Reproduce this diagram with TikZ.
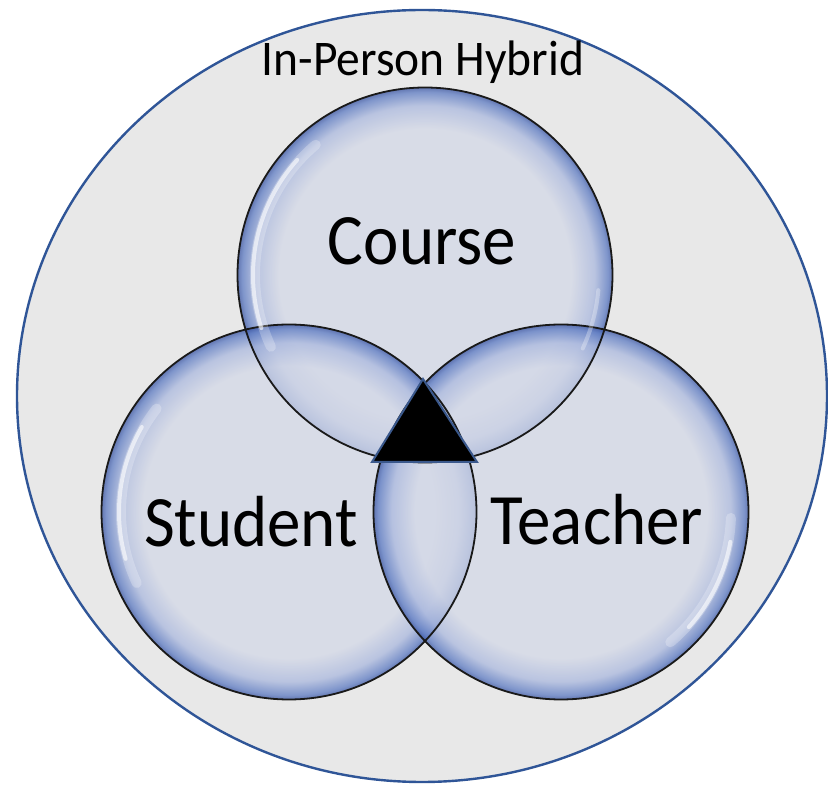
\documentclass[tikz,border=0pt]{standalone}
\usepackage{fontspec}
\setmainfont{Carlito}
\definecolor{gin}{RGB}{211,216,231}
\definecolor{gmid}{RGB}{170,184,222}
\definecolor{grim}{RGB}{92,122,194}
\definecolor{gedge}{RGB}{55,82,160}
\definecolor{outerfill}{RGB}{232,232,232}
\definecolor{outerline}{RGB}{47,85,151}
\definecolor{triline}{RGB}{58,88,140}
\pgfdeclareradialshading{glass}{\pgfpoint{0bp}{0bp}}{color(0bp)=(gin); color(19.5bp)=(gin); color(22.6bp)=(gmid); color(24.4bp)=(grim); color(25bp)=(gedge); color(50bp)=(gedge)}
\tikzset{
  bubble/.style={circle, inner sep=0pt, minimum size=375pt, shade, shading=glass, fill opacity=0.75},
  rimline/.style={draw=black!90, line width=1.8pt},
  shine/.style={white, line width=4pt, opacity=0.6, line cap=round},
  glow/.style={white, line width=10pt, opacity=0.25, line cap=round},
  bigword/.style={anchor=base, inner sep=0pt, font=\fontsize{67}{80}\selectfont},
  title/.style={anchor=base, inner sep=0pt, font=\fontsize{47.5}{56}\selectfont}
}
\begin{document}
\begin{tikzpicture}[x=1pt,y=1pt]
\useasboundingbox (0,0) rectangle (828,785);
\draw[fill=outerfill, draw=outerline, line width=2.4pt] (422,389) ellipse [x radius=405, y radius=386];
\node[bubble] (course) at (425,510) {};
\node[bubble] (student) at (289,273) {};
\node[bubble] (teacher) at (561,273) {};
\draw[rimline] (course.center) circle [radius=187.5];
\draw[rimline] (student.center) circle [radius=187.5];
\draw[rimline] (teacher.center) circle [radius=187.5];
\draw[glow] (course.center) ++(130:170) arc[start angle=130, end angle=205, radius=170];
\draw[shine] (course.center) ++(138:172) arc[start angle=138, end angle=198, radius=172];
\draw[glow] (student.center) ++(142:168) arc[start angle=142, end angle=205, radius=168];
\draw[shine] (student.center) ++(150:170) arc[start angle=150, end angle=196, radius=170];
\draw[glow] (teacher.center) ++(-2:170) arc[start angle=-2, end angle=-50, radius=170];
\draw[shine] (teacher.center) ++(-10:172) arc[start angle=-10, end angle=-42, radius=172];
\draw[shine, opacity=0.3] (course.center) ++(-5:174) arc[start angle=-5, end angle=-25, radius=174];
\coordinate (apex) at (423,406);
\coordinate (bl) at (372,323);
\coordinate (br) at (477,323);
\draw[fill=black, draw=triline, line width=2pt, line join=miter] (apex) -- (bl) -- (br) -- cycle;
\node[title] (hybrid) at (423,709) {\scalebox{1}[1.05]{In-Person Hybrid}};
\node[bigword] (coursetext) at (422,520) {\scalebox{1}[1.08]{Course}};
\node[bigword] (studenttext) at (251,238) {\scalebox{1}[1.08]{Student}};
\node[bigword] (teachertext) at (597,240) {\scalebox{1}[1.08]{Teacher}};
\end{tikzpicture}
\end{document}
